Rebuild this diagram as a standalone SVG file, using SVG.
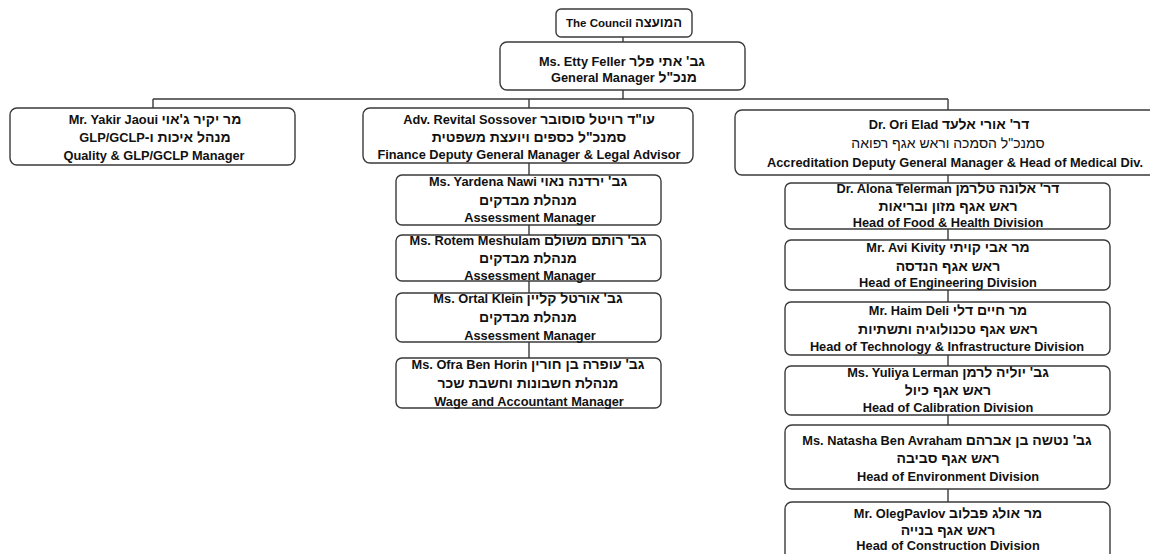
<svg xmlns="http://www.w3.org/2000/svg" width="1150" height="554" viewBox="0 0 1150 554">
<style>
.box{fill:#fff;stroke:#3a3a3a;stroke-width:1.4}
.ln{stroke:#3a3a3a;stroke-width:1.4;fill:none}
text{font-family:"Liberation Sans","DejaVu Sans",sans-serif;font-weight:bold;font-size:12.8px;fill:#111;text-anchor:middle}
.r{direction:rtl;unicode-bidi:embed}
.he{font-size:14px}
.s{font-size:11.5px}
.hs{font-size:13px}
.h{font-weight:normal;font-size:14px}
</style>
<rect width="1150" height="554" fill="#fff"/>
<g id="connectors">
<path class="ln" d="M623 37V42M623 90V99M153 99H948M153 99V108M529 99V108M948 99V110"/>
<path class="ln" d="M529 163V175M529 225V235M529 281V293M529 342V358"/>
<path class="ln" d="M948 175V183M948 229V240M948 290V302M948 355V366M948 415V425M948 489V502"/>
</g>
<g id="council">
<rect class="box" x="556" y="9" width="136" height="28" rx="5"/>
<text class="r s" x="624" y="27"><tspan class="hs">המועצה</tspan> The Council</text>
</g>
<g id="etty">
<rect class="box" x="500" y="42" width="245" height="48" rx="7"/>
<text class="r" x="622" y="66"><tspan class="he">גב' אתי פלר</tspan>  Ms. Etty Feller</text>
<text class="r" x="624" y="82"><tspan class="he">מנכ"ל</tspan>  General Manager</text>
</g>
<g id="yakir">
<rect class="box" x="10" y="108" width="285" height="57" rx="7"/>
<text class="r" x="155" y="124"><tspan class="he">מר יקיר ג'אוי</tspan>  Mr. Yakir Jaoui</text>
<text class="r" x="155" y="142"><tspan class="he">מנהל איכות ו-</tspan>GLP/GCLP</text>
<text x="154" y="160">Quality &amp; GLP/GCLP Manager</text>
</g>
<g id="revital">
<rect class="box" x="363" y="108" width="330" height="55" rx="7"/>
<text class="r" x="529" y="124"><tspan class="he">עו"ד רויטל סוסובר</tspan> Adv. Revital Sossover</text>
<text class="r he" x="529" y="142">סמנכ"ל כספים ויועצת משפטית</text>
<text x="529" y="159">Finance Deputy General Manager &amp; Legal Advisor</text>
</g>
<g id="ori">
<rect class="box" x="735" y="110" width="430" height="65" rx="7"/>
<text class="r" x="949" y="129"><tspan class="he">דר' אורי אלעד</tspan> Dr. Ori Elad</text>
<text class="r h" x="948" y="148">סמנכ"ל הסמכה וראש אגף רפואה</text>
<text x="955" y="167">Accreditation Deputy General Manager &amp; Head of Medical Div.</text>
</g>
<g id="yardena">
<rect class="box" x="396" y="175" width="265" height="50" rx="6"/>
<text class="r" x="528" y="186"><tspan class="he">גב' ירדנה נאוי</tspan> Ms. Yardena Nawi</text>
<text class="r he" x="528" y="205">מנהלת מבדקים</text>
<text x="530" y="222">Assessment Manager</text>
</g>
<g id="rotem">
<rect class="box" x="396" y="235" width="265" height="46" rx="6"/>
<text class="r" x="528" y="245"><tspan class="he">גב' רותם משולם</tspan> Ms. Rotem Meshulam</text>
<text class="r he" x="528" y="263">מנהלת מבדקים</text>
<text x="530" y="280">Assessment Manager</text>
</g>
<g id="ortal">
<rect class="box" x="396" y="293" width="265" height="49" rx="6"/>
<text class="r" x="528" y="303"><tspan class="he">גב' אורטל קליין</tspan> Ms. Ortal Klein</text>
<text class="r he" x="528" y="322">מנהלת מבדקים</text>
<text x="530" y="340">Assessment Manager</text>
</g>
<g id="ofra">
<rect class="box" x="396" y="358" width="265" height="50" rx="6"/>
<text class="r" x="528" y="369"><tspan class="he">גב' עופרה בן חורין</tspan> Ms. Ofra Ben Horin</text>
<text class="r he" x="528" y="388">מנהלת חשבונות וחשבת שכר</text>
<text x="529" y="406">Wage and Accountant Manager</text>
</g>
<g id="alona">
<rect class="box" x="785" y="183" width="325" height="46" rx="6"/>
<text class="r" x="948" y="193"><tspan class="he">דר' אלונה טלרמן</tspan> Dr. Alona Telerman</text>
<text class="r he" x="948" y="211">ראש אגף מזון ובריאות</text>
<text x="948" y="227">Head of Food &amp; Health Division</text>
</g>
<g id="avi">
<rect class="box" x="785" y="240" width="325" height="50" rx="6"/>
<text class="r" x="948" y="252"><tspan class="he">מר אבי קויתי</tspan> Mr. Avi Kivity</text>
<text class="r he" x="948" y="271">ראש אגף הנדסה</text>
<text x="948" y="287">Head of Engineering Division</text>
</g>
<g id="haim">
<rect class="box" x="785" y="302" width="325" height="53" rx="6"/>
<text class="r" x="948" y="315"><tspan class="he">מר חיים דלי</tspan> Mr. Haim Deli</text>
<text class="r he" x="948" y="334">ראש אגף טכנולוגיה ותשתיות</text>
<text x="947" y="351">Head of Technology &amp; Infrastructure Division</text>
</g>
<g id="yuliya">
<rect class="box" x="785" y="366" width="325" height="49" rx="6"/>
<text class="r" x="948" y="377"><tspan class="he">גב' יוליה לרמן</tspan> Ms. Yuliya Lerman</text>
<text class="r he" x="948" y="395">ראש אגף כיול</text>
<text x="948" y="412">Head of Calibration Division</text>
</g>
<g id="natasha">
<rect class="box" x="785" y="425" width="325" height="64" rx="7"/>
<text class="r" x="947" y="445"><tspan class="he">גב' נטשה בן אברהם</tspan> Ms. Natasha Ben Avraham</text>
<text class="r he" x="948" y="463">ראש אגף סביבה</text>
<text x="948" y="481">Head of Environment Division</text>
</g>
<g id="oleg">
<rect class="box" x="785" y="502" width="325" height="64" rx="7"/>
<text class="r" x="948" y="518"><tspan class="he">מר אולג פבלוב</tspan> Mr. OlegPavlov</text>
<text class="r he" x="948" y="535">ראש אגף בנייה</text>
<text x="948" y="550">Head of Construction Division</text>
</g>
</svg>
